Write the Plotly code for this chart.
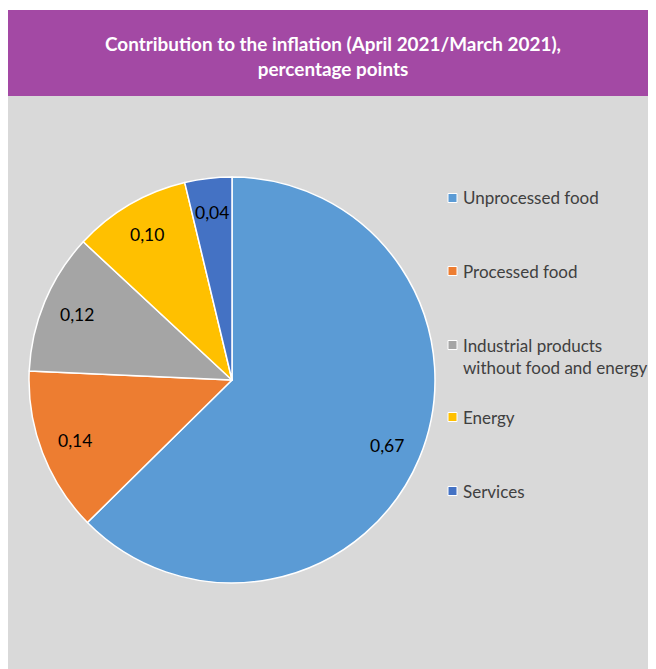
import numpy as np
import plotly.graph_objects as go

labels = ["Unprocessed food", "Processed food",
          "Industrial products<br>without food and energy", "Energy", "Services"]
values = [0.67, 0.14, 0.12, 0.10, 0.04]
colors = ["#5B9BD5", "#ED7D31", "#A5A5A5", "#FFC000", "#4472C4"]

# page is offset by the browser's 8px body margin
OFF = 8
FW, FH = 656 - OFF, 669 - OFF
FONT = "Lato, 'Open Sans', sans-serif"


def px(x):
    return (x - OFF) / FW


def py(y):
    return 1 - (y - OFF) / FH


# pie box in page pixels
PX0, PX1, PY0, PY1 = 28, 436, 177, 583
cx, cy = (PX0 + PX1) / 2, (PY0 + PY1) / 2
R = (PY1 - PY0) / 2

fig = go.Figure()
fig.add_trace(go.Pie(
    labels=labels, values=values, sort=False, direction="clockwise", rotation=0,
    marker=dict(colors=colors, line=dict(color="white", width=1.5)),
    textinfo="none",
    domain=dict(x=[px(PX0), px(PX1)], y=[py(PY1), py(PY0)]),
    showlegend=False, hoverinfo="label+value",
))

shapes = [
    dict(type="rect", xref="paper", yref="paper", x0=px(8), x1=1, y0=py(96), y1=py(10),
         fillcolor="#A349A4", line=dict(width=0), layer="below"),
    dict(type="rect", xref="paper", yref="paper", x0=px(8), x1=1, y0=0, y1=py(96),
         fillcolor="#D9D9D9", line=dict(width=0), layer="below"),
]
annotations = [dict(
    text="<b>Contribution to the inflation (April 2021/March 2021),<br>percentage points</b>",
    xref="paper", yref="paper", x=px(333), y=py(55.5), xanchor="center", yanchor="middle",
    showarrow=False, font=dict(family=FONT, size=18.9, color="white"), align="center")]

# data labels along each slice's bisector
vals = np.array(values)
cum = np.cumsum(vals) - vals / 2
mid = cum / vals.sum() * 2 * np.pi
for v, a in zip(values, mid):
    r = 0.83 * R
    lx = cx + r * np.sin(a)
    ly = cy - r * np.cos(a)
    annotations.append(dict(text=f"{v:.2f}".replace(".", ","), xref="paper", yref="paper",
                            x=px(lx), y=py(ly), xanchor="center", yanchor="middle",
                            showarrow=False, font=dict(family=FONT, size=17.5, color="black")))

legend_y = [198, 271, 356, 417, 491]
for lab, col, ly in zip(labels, colors, legend_y):
    n_lines = lab.count("<br>") + 1
    top = ly - (n_lines - 1) * 11
    shapes.append(dict(type="rect", xref="paper", yref="paper",
                       x0=px(448), x1=px(457), y0=py(top + 4.5), y1=py(top - 4.5),
                       fillcolor=col, line=dict(color="white", width=1)))
    annotations.append(dict(text=lab, xref="paper", yref="paper", x=px(461), y=py(ly),
                            xanchor="left", yanchor="middle", showarrow=False, align="left",
                            font=dict(family=FONT, size=17, color="#404040")))

fig.update_layout(
    width=FW, height=FH, margin=dict(l=0, r=0, t=0, b=0),
    paper_bgcolor="white", plot_bgcolor="white",
    shapes=shapes, annotations=annotations,
)
fig.write_html("out.html")
